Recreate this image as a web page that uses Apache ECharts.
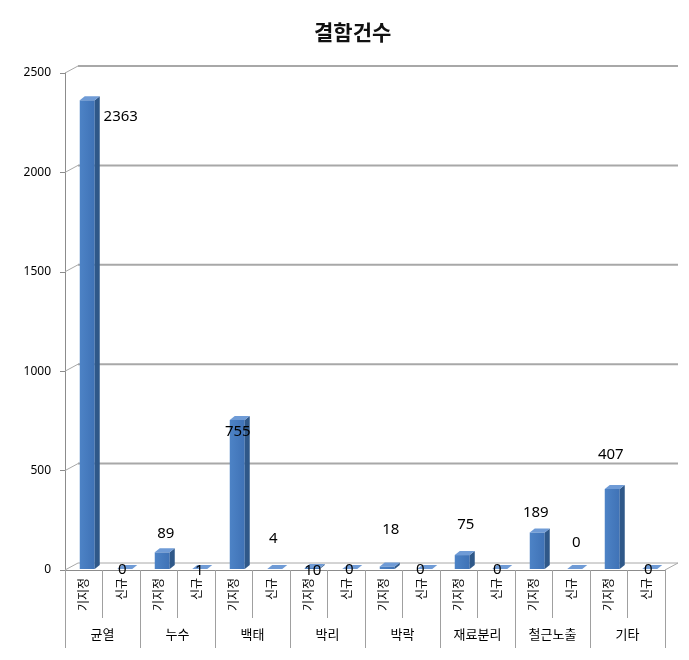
<!DOCTYPE html>
<html><head><meta charset="utf-8">
<script src="https://cdn.jsdelivr.net/npm/echarts@6/dist/echarts.min.js"></script>
<style>html,body{margin:0;padding:0;background:#fff}#c{width:689px;height:660px}</style>
</head><body><div id="c"></div>
<script>
// ---- data ----
const groups = ['균열','누수','백태','박리','박락','재료분리','철근노출','기타'];
const subTypes = ['기지정','신규'];
const values = [2363,0,89,1,755,4,10,0,18,0,75,0,189,0,407,0];
const yTicks = [0,500,1000,1500,2000,2500];
const categories = groups.flatMap(g => subTypes.map(s => g + '|' + s));

// ---- layout (label nudges, px) ----
const labelShift = [[37,16],[1,0],[7,-19],[3,1],[4,12],[2,-30],[4,3],[3,0],[7,-37],[-1,0],[7,-30],[1,0],[2,-20],[5,-27],[2,-34],[2,0]];
const DX = 13, DY = 7; // wall depth

const chart = echarts.init(document.getElementById('c'));

function renderFrame(params, api) {
  const cs = params.coordSys;
  const v = api.value(1);
  const y = api.coord([0, v])[1];
  const gx = cs.x, gw = cs.width;
  const ch = [];
  const col = '#a8a8a8';
  ch.push({type:'line', shape:{x1:gx, y1:y, x2:gx+DX, y2:y-DY}, style:{stroke:col, lineWidth:1}});
  ch.push({type:'line', shape:{x1:gx+DX, y1:y-DY, x2:gx+gw+DX, y2:y-DY}, style:{stroke:col, lineWidth:v===0?1:2}});
  if (v === 0) {
    ch.push({type:'line', shape:{x1:gx+gw, y1:y, x2:gx+gw+DX, y2:y-DY}, style:{stroke:col, lineWidth:1}});
  }
  return {type:'group', children: ch};
}

function renderBar(params, api) {
  const i = api.value(0), v = api.value(1);
  const top = api.coord([i, v]);
  const base = api.coord([i, 0]);
  const cx = top[0];
  const x0 = cx - 4, x1 = cx + 11, dx = 5, dy = 4;
  const yb = base[1] - 1;
  const yt = Math.min(top[1], yb);
  const ch = [];
  if (yb - yt > 0.5) {
    ch.push({type:'rect', shape:{x:x0, y:yt, width:x1-x0, height:yb-yt},
      style:{fill:new echarts.graphic.LinearGradient(0,0,1,0,[{offset:0,color:'#4d83c6'},{offset:1,color:'#3f72b6'}])}});
    ch.push({type:'polygon', shape:{points:[[x1,yt],[x1+dx,yt-dy],[x1+dx,yb-dy],[x1,yb]]},
      style:{fill:'#2f5889'}});
  }
  ch.push({type:'polygon', shape:{points:[[x0,yt],[x1,yt],[x1+dx,yt-dy],[x0+dx,yt-dy]]},
    style:{fill:'#6f9bd6'}});
  const s = labelShift[i];
  ch.push({type:'text', z2:50, style:{text:String(v), x:cx+s[0], y:top[1]+s[1], align:'center', verticalAlign:'middle',
    fill:'#000', fontSize:15, fontFamily:'"Noto Sans", sans-serif'}});
  return {type:'group', children: ch};
}

chart.setOption({
  animation:false,
  backgroundColor:'#fff',
  title:{text:'결함건수', left:309, top:17, textStyle:{fontSize:21, fontWeight:'bold', color:'#111', fontFamily:'"Noto Sans CJK KR", sans-serif'}},
  grid:[
    {left:65, right:24, top:73, bottom:90},
    {left:65, right:24, top:73, bottom:90}
  ],
  xAxis:[
    {type:'category', gridIndex:0, data:categories, position:'bottom',
     axisLine:{show:true, lineStyle:{color:'#8c8c8c', width:1}},
     axisTick:{show:true, length:48, lineStyle:{color:'#a0a0a0'}},
     axisLabel:{rotate:90, margin:8, fontSize:12, color:'#000', fontFamily:'"Noto Sans CJK KR", sans-serif',
       formatter:(val)=>val.split('|')[1]},
     splitLine:{show:false}},
    {type:'category', gridIndex:1, data:groups, position:'bottom',
     axisLine:{show:false},
     axisTick:{show:true, length:78, lineStyle:{color:'#a0a0a0'}},
     axisLabel:{margin:58, fontSize:13, color:'#000', fontFamily:'"Noto Sans CJK KR", sans-serif'},
     splitLine:{show:false}}
  ],
  yAxis:[
    {type:'value', gridIndex:0, min:0, max:2500, interval:500,
     axisLine:{show:true, lineStyle:{color:'#8c8c8c'}},
     axisTick:{show:true, length:5, lineStyle:{color:'#8c8c8c'}},
     axisLabel:{margin:14, fontSize:12, color:'#000', fontFamily:'"Noto Sans", sans-serif', formatter:(v)=>String(v)},
     splitLine:{show:false}},
    {type:'value', gridIndex:1, min:0, max:2500, show:false}
  ],
  series:[
    {type:'custom', xAxisIndex:0, yAxisIndex:0, z:1, silent:true, clip:false,
     renderItem:renderFrame, data:yTicks.map(v=>[0,v])},
    {type:'custom', xAxisIndex:0, yAxisIndex:0, z:3, silent:true, clip:false,
     renderItem:renderBar, data:values.map((v,i)=>[i,v])}
  ]
});
</script></body></html>
